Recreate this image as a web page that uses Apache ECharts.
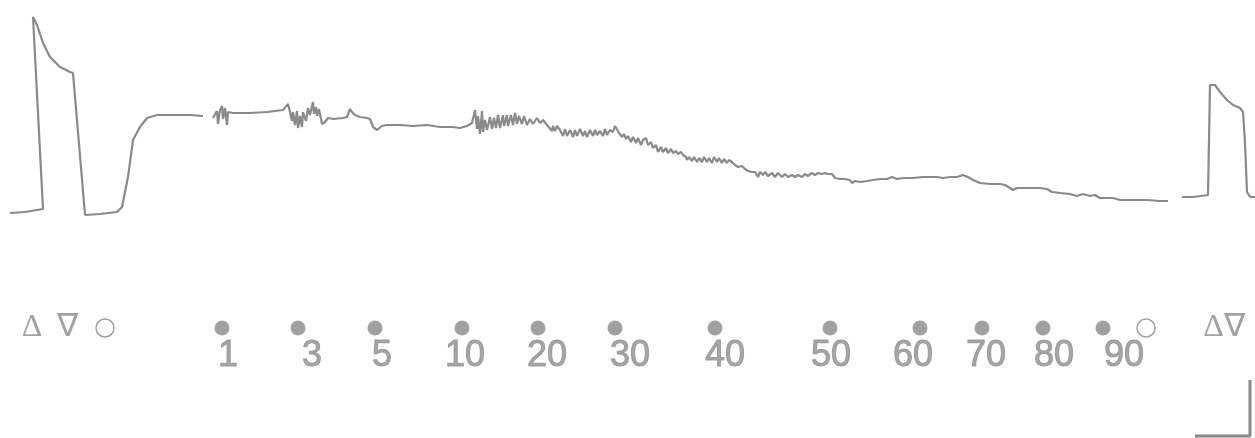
<!DOCTYPE html>
<html>
<head>
<meta charset="utf-8">
<script src="https://cdn.jsdelivr.net/npm/echarts@6/dist/echarts.min.js"></script>
<style>
html,body{margin:0;padding:0;background:#fff;}
#chart{width:1255px;height:438px;}
</style>
</head>
<body>
<div id="chart"></div>
<script>
// ---- trace segments (time units along x, deflection units on y; axis inverted) ----
var seg1X = [10, 25, 43, 33, 32, 37, 43, 50, 60, 70, 73, 85, 100, 117, 122, 128, 133, 140, 147, 157, 173, 190, 203];
var seg1Y = [213, 212, 209, 17, 15, 25, 43, 57, 67, 72, 73, 215, 214, 212, 207, 177, 140, 127, 118, 115, 115, 115, 116];

var seg2X = [213, 215, 217, 218, 220, 222, 223, 225, 227, 228, 230, 233, 250, 267, 283, 288, 290, 292, 293, 295, 297, 298, 300, 302, 303, 306, 308, 310, 313, 314, 316, 317, 319, 322, 325, 328, 333, 343, 347, 350, 352, 355, 360, 367, 370, 373, 377, 382, 387, 400, 413, 427, 440, 453, 460, 467, 472, 475, 477, 478, 480, 482, 483, 485, 487, 490, 492, 494, 496, 498, 500, 503, 504, 507, 508, 511, 513, 515, 517, 519, 522, 524, 527, 530, 533, 537, 540, 543, 547, 549, 552, 553, 555, 557,
  560, 563, 565, 567, 570, 573, 575, 577, 580, 583, 585, 587, 590, 593, 595, 597, 600, 603, 605, 607, 610, 613, 615, 617, 619, 622, 624, 626, 628, 631, 633, 636, 638, 641, 643, 646, 648, 651, 653, 656, 658, 661, 663, 666, 668, 671, 673, 676, 678, 681, 683, 686, 687, 689, 692, 694, 697, 699, 702, 704, 707, 709, 712, 714, 717, 719, 722, 724, 727, 729, 732, 735, 738, 742, 745, 748, 752, 755, 758, 760, 763, 765, 768, 772, 775, 778, 782, 785, 788, 792, 795, 798, 802, 805, 808, 812, 815, 818, 822, 825, 828, 832, 835, 840, 845, 850, 852, 855, 860, 867, 873, 880, 887, 892, 897, 903, 913, 923, 930, 937, 943, 950, 957,
  963, 968, 973, 980, 990, 1000, 1005, 1010, 1013, 1017, 1027, 1040, 1047, 1052, 1060, 1070, 1077, 1083, 1090, 1095, 1100, 1107, 1113, 1120, 1133, 1147, 1160, 1168];
var seg2Y = [118, 119, 111, 124, 110, 106, 119, 108, 125, 112, 114, 113, 113, 112, 110, 104, 112, 121, 112, 125, 111, 128, 116, 127, 112, 121, 108, 115, 102, 114, 107, 116, 109, 124, 122, 118, 119, 118, 117, 109, 112, 115, 117, 118, 119, 127, 130, 126, 125, 125, 126, 125, 127, 127, 128, 126, 123, 110, 129, 116, 134, 111, 132, 120, 130, 117, 129, 118, 128, 115, 128, 115, 126, 115, 126, 115, 125, 113, 124, 116, 124, 116, 125, 119, 124, 118, 123, 120, 125, 127, 131, 126, 131, 126,
  130, 136, 129, 136, 130, 137, 130, 136, 129, 136, 131, 137, 130, 136, 130, 135, 131, 136, 129, 135, 130, 132, 126, 125, 133, 137, 134, 139, 136, 142, 137, 143, 138, 145, 140, 138, 145, 142, 148, 145, 152, 147, 152, 148, 153, 149, 153, 151, 154, 152, 155, 157, 160, 157, 161, 157, 162, 158, 162, 157, 162, 158, 163, 157, 162, 158, 163, 159, 163, 160, 162, 165, 167, 166, 169, 171, 172, 172, 177, 172, 175, 172, 176, 173, 177, 173, 177, 174, 177, 175, 177, 175, 177, 174, 176, 173, 175, 173, 174, 173, 174, 174, 178, 179, 179, 180, 183, 181, 182, 181, 180, 179, 179, 177, 179, 178, 178, 177, 177, 177, 178, 177, 177,
  175, 177, 180, 183, 184, 184, 185, 188, 190, 188, 188, 188, 189, 192, 193, 194, 196, 194, 196, 195, 198, 198, 198, 200, 200, 200, 201, 201];

var seg3X = [1182, 1183, 1187, 1193, 1208, 1210, 1210, 1212, 1215, 1220, 1227, 1233, 1240, 1243, 1245, 1247, 1250, 1255];
var seg3Y = [197, 198, 197, 197, 195, 193, 85, 83, 85, 92, 100, 105, 108, 112, 143, 192, 197, 197];

// calibration bar
var barX = [1195, 1250, 1250];
var barY = [436, 436, 380];

// marker row
var dotX = [222, 298, 375, 462, 538, 615, 715, 830, 920, 982, 1043, 1103];
var openCircleX = [105, 1146];
var glyphText = ['\u0394', '\u2207', '\u0394\u2207'];
var glyphX = [32, 67, 1224];
var markerRowY = 328;

// dose labels
var doseLabels = ['1', '3', '5', '10', '20', '30', '40', '50', '60', '70', '80', '90'];
var doseLabelX = [228, 312, 382, 465, 547, 630, 725, 831, 913, 986, 1054, 1124];
var labelRowY = 356;

function pairs(xs, ys) { return xs.map(function (x, i) { return [x, ys[i]]; }); }

var gray = '#8a8a8a';
var traceStyle = { color: gray, width: 2.2 };

var chart = echarts.init(document.getElementById('chart'), null, { renderer: 'canvas' });
chart.setOption({
  animation: false,
  backgroundColor: '#ffffff',
  grid: { left: 0, right: 0, top: 0, bottom: 0 },
  xAxis: { type: 'value', min: 0, max: 1255, show: false },
  yAxis: { type: 'value', min: 0, max: 438, inverse: true, show: false },
  series: [
    { type: 'line', data: pairs(seg1X, seg1Y), showSymbol: false, lineStyle: traceStyle },
    { type: 'line', data: pairs(seg2X, seg2Y), showSymbol: false, lineStyle: traceStyle },
    { type: 'line', data: pairs(seg3X, seg3Y), showSymbol: false, lineStyle: traceStyle },
    { type: 'line', data: pairs(barX, barY), showSymbol: false, lineStyle: { color: gray, width: 3 } },
    {
      type: 'scatter', symbol: 'circle', symbolSize: 15,
      itemStyle: { color: gray },
      data: dotX.map(function (x) { return [x, markerRowY]; })
    },
    {
      type: 'scatter', symbol: 'circle', symbolSize: 18,
      itemStyle: { color: '#ffffff', borderColor: gray, borderWidth: 1.5 },
      data: openCircleX.map(function (x) { return [x, markerRowY]; })
    },
    {
      type: 'scatter', symbolSize: 0,
      data: glyphX.map(function (x, i) { return { value: [x, markerRowY], name: glyphText[i] }; }),
      label: {
        show: true, position: 'inside', formatter: '{b}',
        color: gray, fontSize: 32, fontFamily: 'Liberation Serif'
      }
    },
    {
      type: 'scatter', symbolSize: 0,
      data: doseLabelX.map(function (x, i) { return { value: [x, labelRowY], name: doseLabels[i] }; }),
      label: {
        show: true, position: 'inside', formatter: '{b}',
        color: '#8e9090', fontSize: 36, fontFamily: 'Liberation Sans',
        textBorderColor: '#8e9090', textBorderWidth: 1
      }
    }
  ]
});
</script>
</body>
</html>
